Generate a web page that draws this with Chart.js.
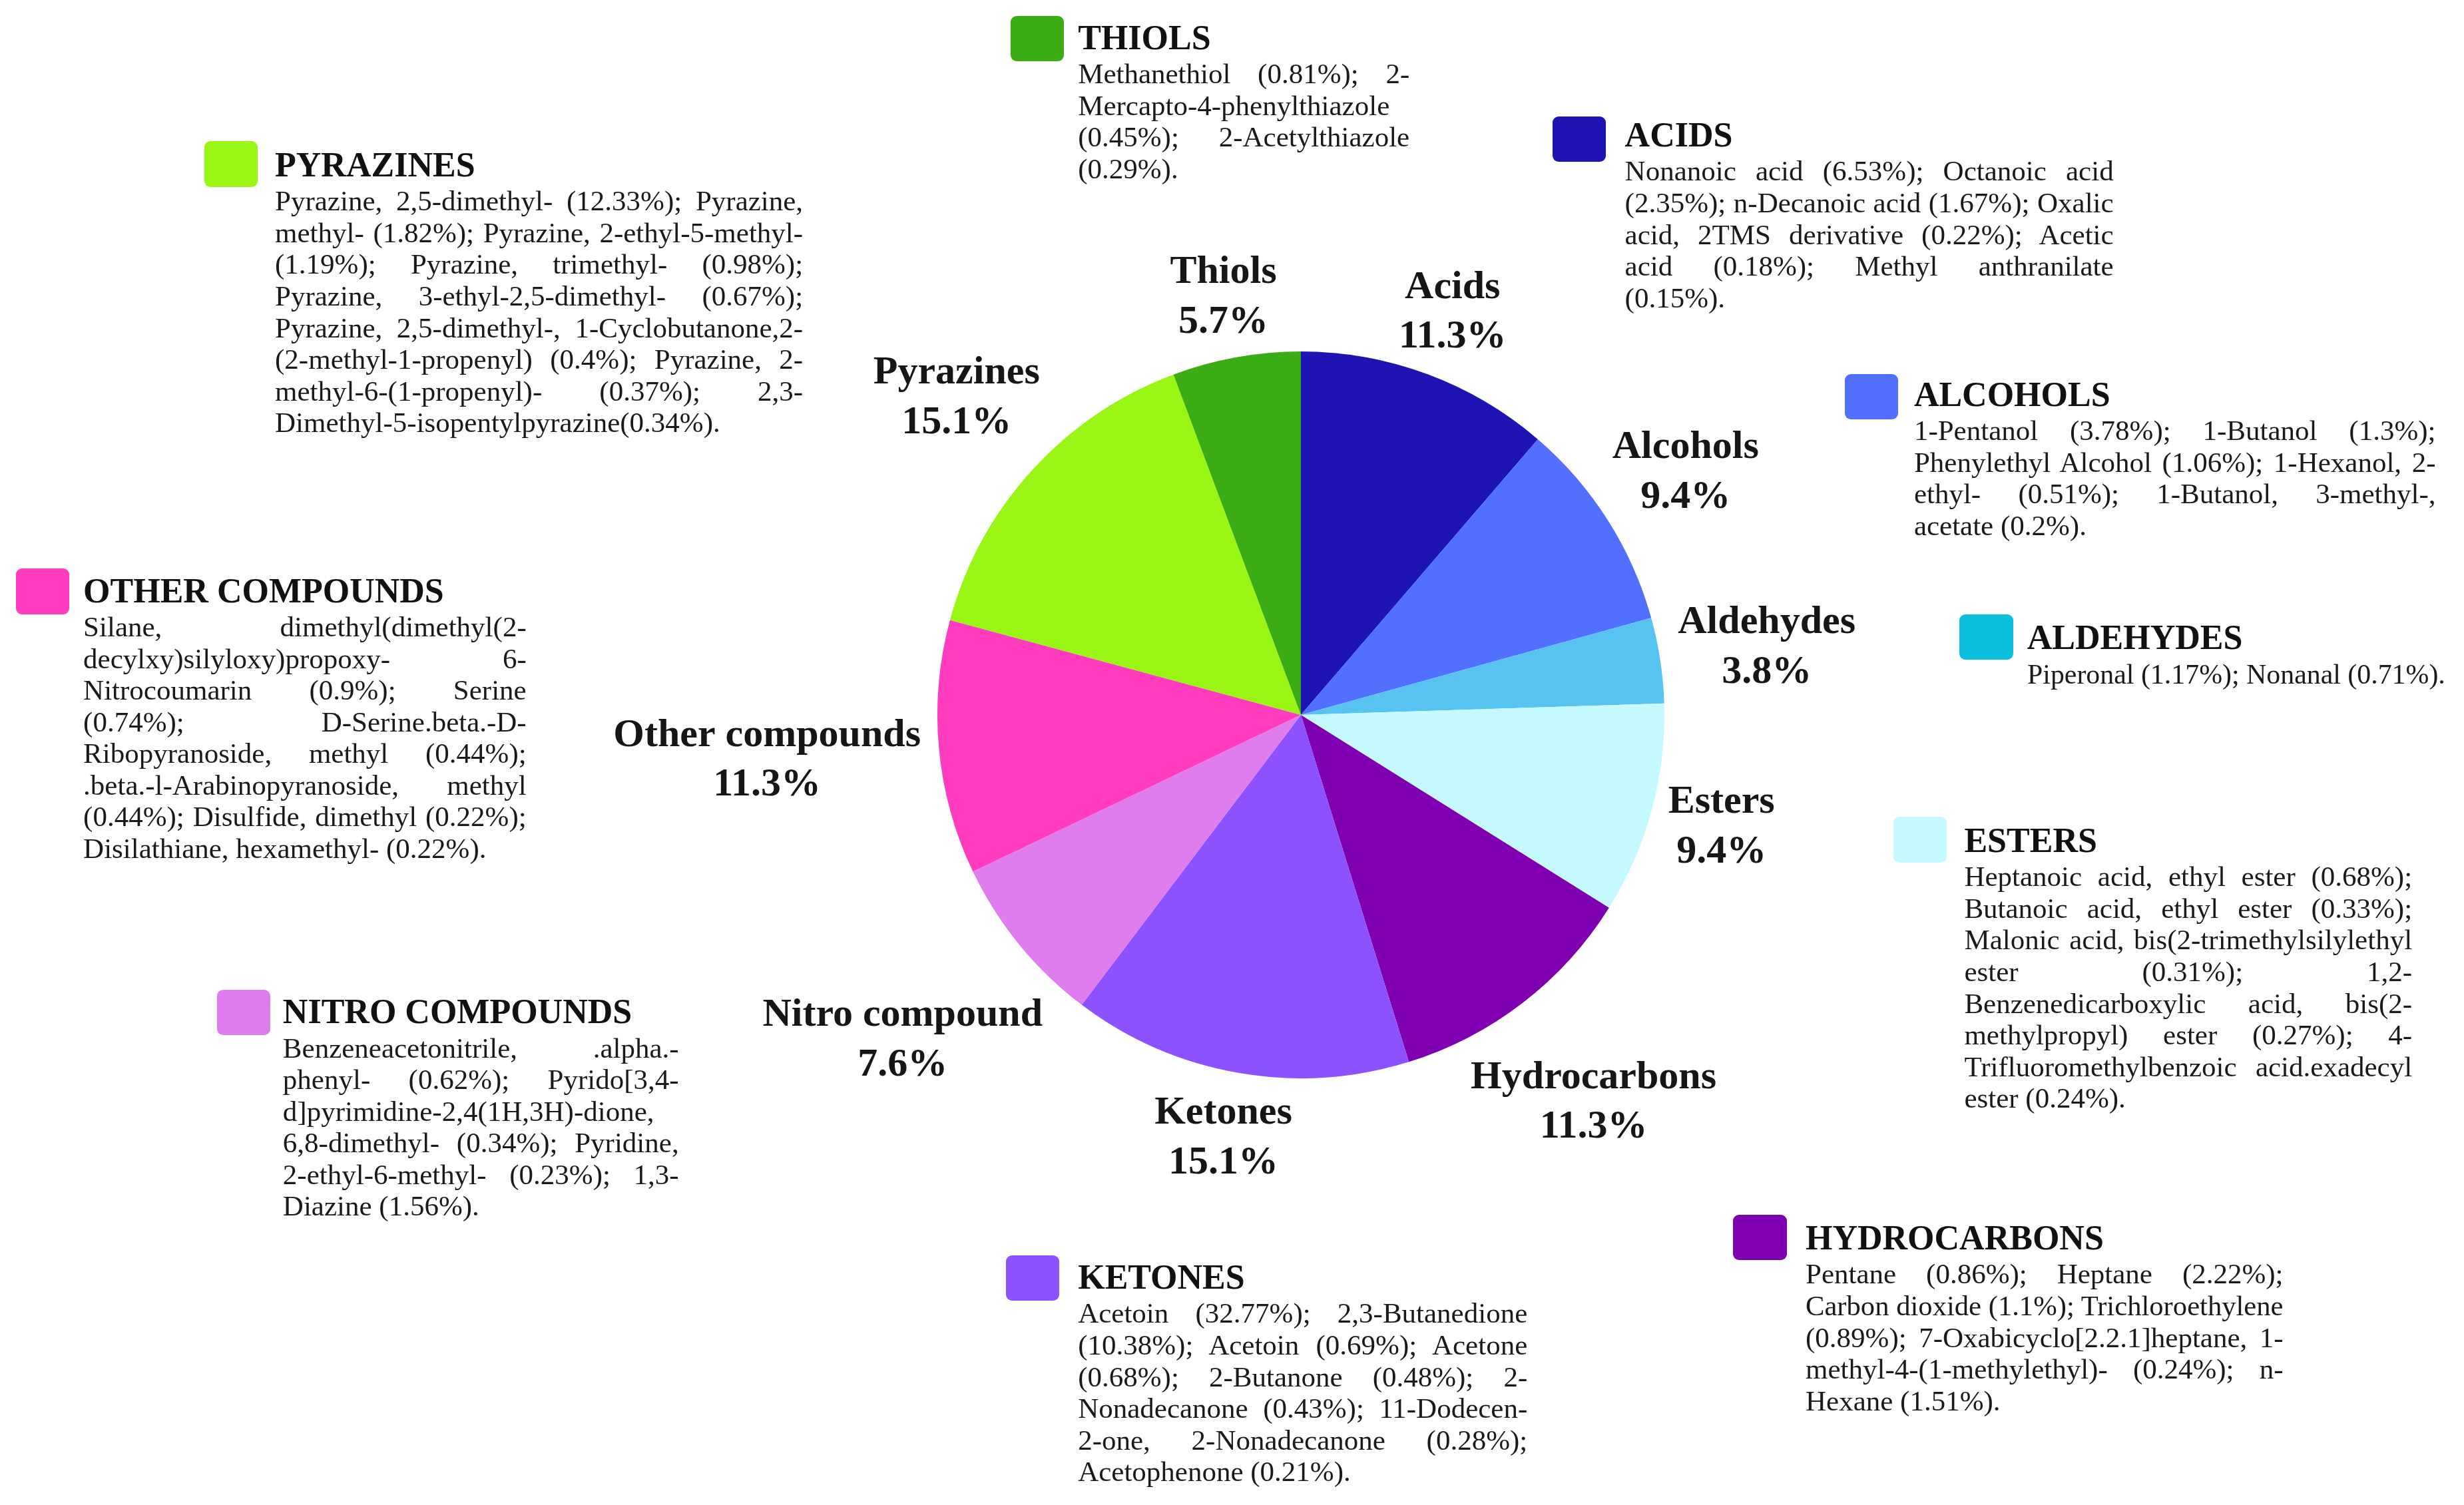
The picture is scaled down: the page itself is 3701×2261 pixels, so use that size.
<!DOCTYPE html>
<html>
<head>
<meta charset="utf-8">
<title>Volatile compound classes</title>
<script src="https://cdn.jsdelivr.net/npm/chart.js@4.4.1/dist/chart.umd.min.js"></script>
<style>
  html, body { margin: 0; padding: 0; background: #fff; overflow: hidden; }
  #wrap { position: relative; width: 3701px; height: 2261px; }
  #pie { position: absolute; left: 0; top: 0; }
  .swatch { position: absolute; border-radius: 9px; }
  .head { position: absolute; font-family: "Liberation Serif", "Times New Roman", serif; font-weight: bold; color: #111; white-space: nowrap; line-height: 1; }
  .body { position: absolute; font-family: "Liberation Serif", "Times New Roman", serif; color: #1a1a1a; }
  .line { display: block; white-space: nowrap; }
  .line span { display: inline-block; white-space: nowrap; transform-origin: 0 50%; }
</style>
</head>
<body>
<div id="wrap">
  <canvas id="pie" width="3701" height="2261"></canvas>
</div>
<script>
// ---- data ----
const categories = ['Acids', 'Alcohols', 'Aldehydes', 'Esters', 'Hydrocarbons', 'Ketones', 'Nitro compound', 'Other compounds', 'Pyrazines', 'Thiols'];
const shares = [11.3, 9.4, 3.8, 9.4, 11.3, 15.1, 7.6, 11.3, 15.1, 5.7];
const sliceColors = ['#1e14b4', '#5270ff', '#56c3f0', '#c4faff', '#7f00b0', '#8c52ff', '#e07dee', '#ff3cbe', '#98f514', '#3cac14'];

// descriptive blocks round the pie
const blockTitles = ['THIOLS', 'ACIDS', 'PYRAZINES', 'ALCOHOLS', 'OTHER COMPOUNDS', 'ALDEHYDES', 'ESTERS', 'NITRO COMPOUNDS', 'HYDROCARBONS', 'KETONES'];
const blockColors = ['#3cac14', '#1e14b4', '#98f514', '#5270ff', '#ff3cbe', '#0abfdc', '#c4faff', '#e07dee', '#7f00b0', '#8c52ff'];
const blockLines = [
  ['Methanethiol (0.81%); 2-', 'Mercapto-4-phenylthiazole', '(0.45%); 2-Acetylthiazole', '(0.29%).'],
  ['Nonanoic acid (6.53%); Octanoic acid', '(2.35%); n-Decanoic acid (1.67%); Oxalic', 'acid, 2TMS derivative (0.22%); Acetic', 'acid (0.18%); Methyl anthranilate', '(0.15%).'],
  ['Pyrazine, 2,5-dimethyl- (12.33%); Pyrazine,', 'methyl- (1.82%); Pyrazine, 2-ethyl-5-methyl-', '(1.19%); Pyrazine, trimethyl- (0.98%);', 'Pyrazine, 3-ethyl-2,5-dimethyl- (0.67%);', 'Pyrazine, 2,5-dimethyl-, 1-Cyclobutanone,2-', '(2-methyl-1-propenyl) (0.4%); Pyrazine, 2-', 'methyl-6-(1-propenyl)- (0.37%); 2,3-', 'Dimethyl-5-isopentylpyrazine(0.34%).'],
  ['1-Pentanol (3.78%); 1-Butanol (1.3%);', 'Phenylethyl Alcohol (1.06%); 1-Hexanol, 2-', 'ethyl- (0.51%); 1-Butanol, 3-methyl-,', 'acetate (0.2%).'],
  ['Silane, dimethyl(dimethyl(2-', 'decylxy)silyloxy)propoxy- 6-', 'Nitrocoumarin (0.9%); Serine', '(0.74%); D-Serine.beta.-D-', 'Ribopyranoside, methyl (0.44%);', '.beta.-l-Arabinopyranoside, methyl', '(0.44%); Disulfide, dimethyl (0.22%);', 'Disilathiane, hexamethyl- (0.22%).'],
  ['Piperonal (1.17%); Nonanal (0.71%).'],
  ['Heptanoic acid, ethyl ester (0.68%);', 'Butanoic acid, ethyl ester (0.33%);', 'Malonic acid, bis(2-trimethylsilylethyl', 'ester (0.31%); 1,2-', 'Benzenedicarboxylic acid, bis(2-', 'methylpropyl) ester (0.27%); 4-', 'Trifluoromethylbenzoic acid.exadecyl', 'ester (0.24%).'],
  ['Benzeneacetonitrile, .alpha.-', 'phenyl- (0.62%); Pyrido[3,4-', 'd]pyrimidine-2,4(1H,3H)-dione,', '6,8-dimethyl- (0.34%); Pyridine,', '2-ethyl-6-methyl- (0.23%); 1,3-', 'Diazine (1.56%).'],
  ['Pentane (0.86%); Heptane (2.22%);', 'Carbon dioxide (1.1%); Trichloroethylene', '(0.89%); 7-Oxabicyclo[2.2.1]heptane, 1-', 'methyl-4-(1-methylethyl)- (0.24%); n-', 'Hexane (1.51%).'],
  ['Acetoin (32.77%); 2,3-Butanedione', '(10.38%); Acetoin (0.69%); Acetone', '(0.68%); 2-Butanone (0.48%); 2-', 'Nonadecanone (0.43%); 11-Dodecen-', '2-one, 2-Nonadecanone (0.28%);', 'Acetophenone (0.21%).']
];

// ---- layout (measured on a 1568px wide sketch, scaled up) ----
const S = 3701 / 1568;
// [swatchX, swatchY, textLeft, textRight, firstLineCentre]
const blockBoxes = [
  [643, 10, 686, 897, 47],
  [988, 74, 1034, 1345, 109],
  [130, 90, 175, 511, 128],
  [1174, 238, 1218, 1550, 274],
  [10, 362, 53, 335, 399],
  [1247, 391, 1290, 1556, 429],
  [1205, 520, 1250, 1535, 558],
  [138, 630, 180, 432, 667],
  [1103, 773, 1149, 1453, 811],
  [640, 799, 686, 972, 836]
];
const lineStep = 20.15 * S;
const bodySize = 43;
const headSize = 52;
const pieFont = 60;
// small hand nudges for a few slice labels (sketch px)
const labelNudge = [[0, 0], [0, -8], [0, -2], [0, 0], [-10, 30], [0, 0], [4, 34], [0, 4], [0, -18], [0, 3]];

const sliceLabels = {
  id: 'sliceLabels',
  afterDraw(chart) {
    const ctx = chart.ctx;
    const meta = chart.getDatasetMeta(0);
    ctx.save();
    ctx.font = 'bold ' + pieFont + 'px "Liberation Serif", serif';
    ctx.fillStyle = '#161616';
    ctx.textAlign = 'center';
    ctx.textBaseline = 'middle';
    meta.data.forEach((arc, i) => {
      const p = arc.getProps(['x', 'y', 'startAngle', 'endAngle', 'outerRadius'], true);
      const mid = (p.startAngle + p.endAngle) / 2;
      const dx = Math.cos(mid), dy = Math.sin(mid);
      const name = categories[i];
      const pct = shares[i].toFixed(1) + '%';
      const w = Math.max(ctx.measureText(name).width, ctx.measureText(pct).width) / 2;
      const gap = 12 * S, h = 30 * S;
      const cx = p.x + dx * (p.outerRadius + gap + w) + labelNudge[i][0] * S;
      const cy = p.y + dy * (p.outerRadius + gap + h) + labelNudge[i][1] * S;
      ctx.fillText(name, cx, cy - 15.5 * S);
      ctx.fillText(pct, cx, cy + 16 * S);
    });
    ctx.restore();
  }
};

new Chart(document.getElementById('pie'), {
  type: 'pie',
  data: {
    labels: categories,
    datasets: [{
      data: shares,
      backgroundColor: sliceColors,
      borderWidth: 0
    }]
  },
  options: {
    responsive: false,
    devicePixelRatio: 1,
    animation: false,
    layout: { padding: { left: 1408, right: 1201, top: 528, bottom: 641 } },
    plugins: {
      legend: { display: false },
      tooltip: { enabled: false }
    }
  },
  plugins: [sliceLabels]
});

// ---- text blocks ----
const wrap = document.getElementById('wrap');
blockTitles.forEach((title, i) => {
  const [sx, sy, tx, tr, y0] = blockBoxes[i];
  const sw = document.createElement('div');
  sw.className = 'swatch';
  sw.style.left = (sx * S) + 'px';
  sw.style.top = (sy * S) + 'px';
  sw.style.width = (34 * S) + 'px';
  sw.style.height = (29 * S) + 'px';
  sw.style.background = blockColors[i];
  wrap.appendChild(sw);

  const hd = document.createElement('div');
  hd.className = 'head';
  hd.textContent = title;
  hd.style.fontSize = headSize + 'px';
  hd.style.left = (tx * S) + 'px';
  hd.style.top = ((y0 - 15.5) * S - 0.8375 * headSize) + 'px';
  wrap.appendChild(hd);

  const bd = document.createElement('div');
  bd.className = 'body';
  const W = (tr - tx) * S;
  bd.style.left = (tx * S) + 'px';
  bd.style.top = ((y0 + 2) * S - lineStep / 2 - 0.11 * bodySize) + 'px';
  bd.style.width = W + 'px';
  bd.style.fontSize = bodySize + 'px';
  bd.style.lineHeight = lineStep + 'px';
  blockLines[i].forEach((txt, j) => {
    const ln = document.createElement('div');
    ln.className = 'line';
    const sp = document.createElement('span');
    sp.textContent = txt;
    ln.appendChild(sp);
    bd.appendChild(ln);
  });
  wrap.appendChild(bd);

  // justify every line but the last one
  const spans = bd.querySelectorAll('span');
  spans.forEach((sp, j) => {
    const natural = sp.getBoundingClientRect().width;
    const last = j === spans.length - 1;
    if (natural > W) {
      sp.style.transform = 'scaleX(' + (W / natural) + ')';
    } else if (!last) {
      const gaps = (sp.textContent.match(/ /g) || []).length;
      if (gaps > 0) sp.style.wordSpacing = ((W - natural) / gaps) + 'px';
    }
  });
});
</script>
</body>
</html>
